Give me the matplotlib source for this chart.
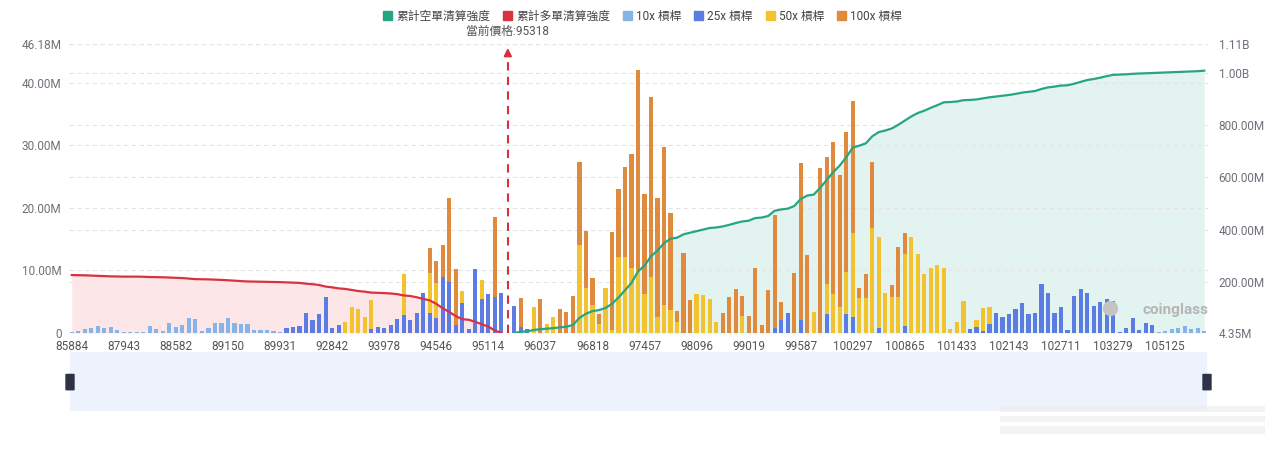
import numpy as np
import matplotlib.pyplot as plt
from matplotlib.patches import Patch, FancyBboxPatch

plt.rcParams['font.family'] = ['Roboto', 'Noto Sans CJK TC', 'DejaVu Sans']

# price labels shown on the category axis (every 8th bucket)
tick_labels = ['85884', '87943', '88582', '89150', '89931', '92842', '93978', '94546',
               '95114', '96037', '96818', '97457', '98096', '99019', '99587', '100297',
               '100865', '101433', '102143', '102711', '103279', '105125']
current_price = 95318
current_idx = 67

# liquidation intensity per price bucket (millions), by leverage
lev10 = [0.2, 0.37, 0.6, 0.85, 1.1, 0.75, 0.95, 0.5, 0.2, 0.2,
         0.2, 0.2, 1.15, 0.65, 0.3, 1.65, 0.9, 1.3, 2.35, 2.25,
         0.3, 0.75, 1.65, 1.65, 2.35, 1.65, 1.5, 1.4, 0.45, 0.4,
         0.4, 0.3, 0.2, 0, 0, 0, 0, 0, 0, 0,
         0, 0, 0, 0, 0, 0, 0, 0, 0, 0,
         0, 0, 0, 0, 0, 0, 0, 0, 0, 0,
         0, 0, 0, 0, 0, 0, 0, 0, 0, 0,
         0, 0, 0, 0, 0, 0, 0, 0, 0, 0,
         0, 0, 0, 0, 0, 0, 0, 0, 0, 0,
         0, 0, 0, 0, 0, 0, 0, 0, 0, 0,
         0, 0, 0, 0, 0, 0, 0, 0, 0, 0,
         0, 0, 0, 0, 0, 0, 0, 0, 0, 0,
         0, 0, 0, 0, 0, 0, 0, 0, 0, 0,
         0, 0, 0, 0, 0, 0, 0, 0, 0, 0,
         0, 0, 0, 0, 0, 0, 0, 0, 0, 0,
         0, 0, 0, 0, 0, 0, 0, 0, 0, 0,
         0, 0, 0, 0, 0, 0, 0, 0.2, 0.3, 0.6,
         0.75, 1.1, 0.6, 0.85, 0.3]
lev25 = [0, 0, 0, 0, 0, 0, 0, 0, 0, 0,
         0, 0, 0, 0, 0, 0, 0, 0, 0, 0,
         0, 0, 0, 0, 0, 0, 0, 0, 0, 0,
         0, 0, 0, 0.85, 0.9, 1.15, 3.25, 2.1, 3.0, 5.8,
         0.85, 1.3, 0, 0, 0, 0, 0.7, 0.9, 0.85, 1.2,
         2.2, 2.9, 2.0, 3.25, 6.45, 3.25, 2.35, 9.0, 8.2, 1.3,
         4.75, 0.65, 10.2, 5.45, 6.2, 5.7, 6.35, 0, 4.3, 1.0,
         0.7, 0, 0, 0, 0, 0, 0, 0, 0, 0,
         0, 0, 0, 0, 0, 0, 0, 0, 0, 0,
         0, 0, 0, 0, 0, 0, 0, 0, 0, 0,
         0, 0, 0, 0, 0, 0, 0, 0, 0.8, 2.0,
         3.15, 0, 2.1, 0, 0, 0, 3.0, 0, 0, 3.0,
         2.6, 0, 0, 0, 0.75, 0, 0, 0, 1.1, 0,
         0, 0, 0, 0, 0, 0, 0, 0, 0.6, 1.0,
         0.3, 1.45, 3.15, 2.6, 3.0, 3.8, 4.75, 3.05, 3.25, 7.85,
         6.35, 3.15, 4.1, 0.5, 5.9, 7.1, 6.45, 4.3, 5.0, 5.4,
         5.15, 0.2, 0.85, 2.45, 0.4, 1.65, 1.2, 0, 0, 0,
         0, 0, 0, 0, 0]
lev50 = [0, 0, 0, 0, 0, 0, 0, 0, 0, 0,
         0, 0, 0, 0, 0, 0, 0, 0, 0, 0,
         0, 0, 0, 0, 0, 0, 0, 0, 0, 0,
         0, 0, 0, 0, 0, 0, 0, 0, 0, 0,
         0, 0, 1.8, 4.1, 3.8, 2.6, 4.5, 0, 0, 0,
         0, 6.5, 0, 0, 0, 6.3, 5.6, 0, 0, 0,
         2.0, 0, 0, 2.95, 0, 0, 0, 0, 0, 0,
         0, 4.2, 0, 1.5, 2.6, 0, 0, 0, 14.1, 7.25,
         4.5, 1.5, 7.25, 0.5, 12.2, 12.2, 10.35, 10.1, 6.2, 9.0,
         2.6, 4.5, 3.7, 1.8, 0, 0, 6.25, 6.1, 5.5, 1.8,
         0, 0, 0, 2.7, 0, 0, 0, 0, 0, 0,
         0, 0, 0, 0, 3.3, 0, 4.8, 6.2, 4.2, 6.8,
         13.35, 5.55, 5.55, 16.85, 14.65, 6.45, 5.7, 5.8, 11.55, 15.4,
         12.6, 9.45, 10.35, 10.9, 10.45, 0.6, 1.8, 5.1, 0, 1.0,
         3.65, 2.75, 0, 0, 0, 0, 0, 0, 0, 0,
         0, 0, 0, 0, 0, 0, 0, 0, 0, 0,
         0, 0, 0, 0, 0, 0, 0, 0, 0, 0,
         0, 0, 0, 0, 0]
lev100 = [0, 0, 0, 0, 0, 0, 0, 0, 0, 0,
          0, 0, 0, 0, 0, 0, 0, 0, 0, 0,
          0, 0, 0, 0, 0, 0, 0, 0, 0, 0,
          0, 0, 0, 0, 0, 0, 0, 0, 0, 0,
          0, 0, 0, 0, 0, 0, 0, 0, 0, 0,
          0, 0, 0, 0, 0, 4.0, 3.5, 5.1, 13.3, 9.0,
          0, 0, 0, 0, 0, 12.9, 0, 0, 0, 4.6,
          0, 0, 5.5, 0, 0, 3.8, 3.3, 5.9, 13.2, 9.0,
          4.35, 1.6, 0, 15.7, 10.8, 14.4, 18.2, 31.9, 16.0, 28.7,
          18.9, 25.2, 15.4, 1.7, 12.75, 5.3, 0, 0, 0, 0,
          3.25, 5.7, 7.0, 3.2, 2.7, 10.45, 1.2, 6.9, 18.0, 3.0,
          0, 9.65, 25.0, 12.5, 0, 26.3, 20.4, 24.3, 21.0, 22.25,
          21.05, 1.6, 3.9, 10.55, 0, 0, 2.0, 7.9, 3.4, 0,
          0, 0, 0, 0, 0, 0, 0, 0, 0, 0,
          0, 0, 0, 0, 0, 0, 0, 0, 0, 0,
          0, 0, 0, 0, 0, 0, 0, 0, 0, 0,
          0, 0, 0, 0, 0, 0, 0, 0, 0, 0,
          0, 0, 0, 0, 0]

# cumulative long liquidation (below price) and short liquidation (above price), millions
long_cum = [226, 225.5, 225, 224, 223, 222, 221, 220.5, 220, 220,
            220, 219.5, 218.5, 218, 217.5, 216.5, 215.5, 214.5, 212.5, 210.5,
            210, 209.5, 208.5, 207.5, 206, 204.5, 203, 201.5, 201, 200.5,
            200, 199.5, 199, 198, 197, 196, 193, 191, 188, 182,
            179, 175, 173, 169, 165, 162.5, 159, 158, 157, 155.5,
            153, 148, 146, 141, 135, 129, 116, 99, 85, 69,
            57, 55, 47, 38, 29, 14, 5]
short_cum = [4.4, 9, 11, 16, 19, 21, 23, 26, 28.5, 35,
             62, 78, 88, 92, 100, 116, 140, 168, 196, 240,
             262, 298, 320, 348, 365, 369, 382, 388, 394, 400,
             406, 408, 412, 418, 425, 431, 434, 444, 446, 452,
             472, 477, 480, 490, 517, 530, 534, 560, 590, 620,
             645, 677, 714, 721, 730, 757, 773, 779, 787, 801,
             817, 833, 846, 855, 866, 876, 887, 888, 890, 895,
             896, 898, 902, 906, 909, 912, 915, 919, 924, 927,
             930, 938, 944, 947, 951, 952, 958, 965, 972, 976,
             981, 987, 992, 993, 994, 996, 997, 998, 999, 1000,
             1001, 1002, 1003, 1004, 1005, 1006, 1008]

c10, c25, c50, c100 = '#86b4e8', '#5b7de3', '#f3c22f', '#e08a3e'
c_short, c_long = '#27a583', '#d9323f'
tick_color = '#6e7079'

n = len(lev10)
x = np.arange(n)
long_x = x[:len(long_cum)]
short_x = x[n - len(short_cum):]

fig = plt.figure(figsize=(12.8, 4.53), dpi=100)
rect = [68.5 / 1280, 1 - 333 / 453, 1139 / 1280, 289 / 453]
ax = fig.add_axes(rect)
ax2 = ax.twinx()   # right scale, fills behind the bars
ax3 = ax.twinx()   # right scale, lines on top of the bars
ax2.set_zorder(1)
ax.set_zorder(2)
ax3.set_zorder(3)
ax.patch.set_visible(False)
ax3.patch.set_visible(False)

ymax_left = 46.18
rmin, rmax = 4.35, 1110
ax.set_xlim(-0.5, n - 0.5)
for a in (ax, ax2, ax3):
    for s in a.spines.values():
        s.set_visible(False)
ax.set_ylim(0, ymax_left)
ax2.set_ylim(rmin, rmax)
ax3.set_ylim(rmin, rmax)

# fills
ax2.fill_between(long_x, long_cum, rmin, color='#fde6e8', lw=0)
ax2.fill_between(short_x, short_cum, rmin, color='#e3f3f0', lw=0)

# grid lines
right_ticks = [rmin, 200, 400, 600, 800, 1000, rmax]
left_ticks = [0, 10, 20, 30, 40, ymax_left]
for t in right_ticks[1:]:
    ax2.axhline(t, color='#e4e4e4', lw=0.8, ls=(0, (4, 3)), zorder=0.5)
for t in left_ticks[1:]:
    ax.axhline(t, color='#e4e4e4', lw=0.8, ls=(0, (4, 3)), zorder=0.5)

# stacked bars
b25 = np.array(lev10)
b50 = b25 + np.array(lev25)
b100 = b50 + np.array(lev50)
w = 0.64
ax.bar(x, lev10, width=w, color=c10, zorder=2)
ax.bar(x, lev25, width=w, bottom=b25, color=c25, zorder=2)
ax.bar(x, lev50, width=w, bottom=b50, color=c50, zorder=2)
ax.bar(x, lev100, width=w, bottom=b100, color=c100, zorder=2)

# cumulative lines
ax3.plot(long_x, long_cum, color=c_long, lw=1.6)
ax3.plot(short_x, short_cum, color=c_short, lw=1.6)

# current price marker
ax.plot([current_idx, current_idx], [0, 45.0], color='#d9303e', lw=1.5,
        ls=(0, (4, 3)), zorder=4)
ax.annotate('', xy=(current_idx, 46.0), xytext=(current_idx, 44.2),
            arrowprops=dict(arrowstyle='-|>', color='#d9303e', lw=1.5,
                            mutation_scale=11), zorder=4, annotation_clip=False)
ax.text(current_idx, 1.045, f'當前價格:{current_price}', transform=ax.get_xaxis_transform(),
        ha='center', va='center', fontsize=8.5, color='#555555')

# axes ticks
ax.set_yticks(left_ticks)
ax.set_yticklabels(['0', '10.00M', '20.00M', '30.00M', '40.00M', '46.18M'])
ax.tick_params(axis='y', length=0, pad=5, labelsize=8.5, labelcolor=tick_color)
ax.set_xticks(x[::8][:len(tick_labels)])
ax.set_xticklabels(tick_labels)
ax.tick_params(axis='x', length=0, pad=5, labelsize=8.5, labelcolor='#555555')
ax2.set_yticks(right_ticks)
ax2.set_yticklabels(['4.35M', '200.00M', '400.00M', '600.00M', '800.00M', '1.00B', '1.11B'])
ax2.tick_params(axis='y', length=0, pad=8, labelsize=8.5, labelcolor=tick_color)
ax3.set_axis_off()

# watermark
ax3.text(0.972, 0.08, 'coinglass', transform=ax3.transAxes, ha='center', va='center',
         fontsize=11, color='#b5b5b5', fontweight='bold', zorder=5)
ax3.plot([0.914], [0.085], transform=ax3.transAxes, marker='o', ms=10,
         color='#c4c4c4', zorder=5)

# legend
handles = [Patch(color=c_short), Patch(color=c_long), Patch(color=c10),
           Patch(color=c25), Patch(color=c50), Patch(color=c100)]
labels = ['累計空單清算強度', '累計多單清算強度', '10x 槓桿', '25x 槓桿', '50x 槓桿', '100x 槓桿']
fig.legend(handles, labels, loc='center', bbox_to_anchor=(0.502, 0.964), ncol=6,
           frameon=False, fontsize=8.5, handlelength=0.75, handleheight=0.75,
           handletextpad=0.35, columnspacing=1.1, labelcolor='#444444')

# data zoom slider
sl = fig.add_axes([70 / 1280, 1 - 411 / 453, 1137 / 1280, 59 / 453])
sl.set_facecolor('#edf2fd')
sl.set_xlim(0, 1)
sl.set_ylim(0, 1)
sl.set_xticks([])
sl.set_yticks([])
for s in sl.spines.values():
    s.set_visible(False)
for hx in (0, 1):
    sl.add_patch(FancyBboxPatch((hx - 0.0035, 0.36), 0.007, 0.26,
                                boxstyle='round,pad=0,rounding_size=0.003',
                                color='#2c3345', clip_on=False, zorder=5))

# faint blurred watermark in the lower right corner
wm = fig.add_axes([1000 / 1280, 1 - 440 / 453, 265 / 1280, 40 / 453])
wm.set_axis_off()
wm.set_xlim(0, 1)
wm.set_ylim(0, 1)
for yy, hh in ((0.15, 0.2), (0.45, 0.15), (0.7, 0.15)):
    wm.add_patch(plt.Rectangle((0.0, yy), 1.0, hh, color='#ececec', alpha=0.6, lw=0))

fig.savefig('out.png', dpi=100)
